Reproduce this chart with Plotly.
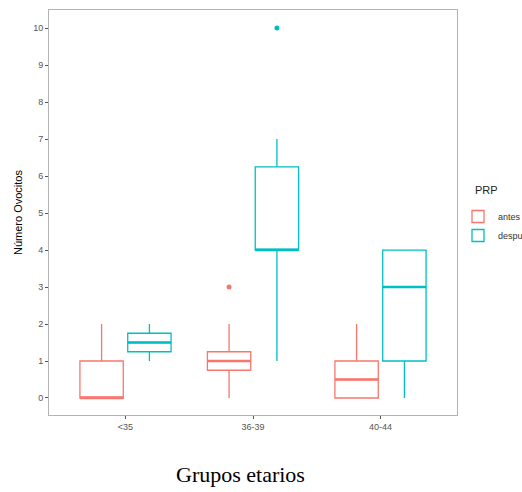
import plotly.graph_objects as go

groups = ["<35", "36-39", "40-44"]
conditions = ["antes", "después"]
colors = {"antes": "#F8766D", "después": "#00BFC4"}

# box statistics per condition, in group order
q1 = {"antes": [0, 0.75, 0], "después": [1.25, 4, 1]}
median = {"antes": [0, 1, 0.5], "después": [1.5, 4, 3]}
q3 = {"antes": [1, 1.25, 1], "después": [1.75, 6.25, 4]}
lower = {"antes": [0, 0, 0], "después": [1, 1, 0]}
upper = {"antes": [2, 2, 2], "después": [2, 7, 4]}
# outliers: (group index, value)
outliers = {"antes": [(1, 3)], "después": [(1, 10)]}

dodge = 0.1875
box_w = 0.34
pos = [1, 2, 3]
offsets = {"antes": -dodge, "después": dodge}

fig = go.Figure()
for c in conditions:
    xs = [p + offsets[c] for p in pos]
    fig.add_trace(go.Box(
        x=xs, q1=q1[c], median=median[c], q3=q3[c],
        lowerfence=lower[c], upperfence=upper[c],
        width=box_w, boxpoints=False, name=c,
        line=dict(color=colors[c], width=1.3),
        fillcolor="rgba(0,0,0,0)", whiskerwidth=0,
        legendgroup=c, showlegend=True, hoverinfo="skip",
    ))
    # thicker median segments (ggplot style)
    mx, my = [], []
    for x, m in zip(xs, median[c]):
        mx += [x - box_w / 2, x + box_w / 2, None]
        my += [m, m, None]
    fig.add_trace(go.Scatter(x=mx, y=my, mode="lines",
                             line=dict(color=colors[c], width=2.6),
                             showlegend=False, hoverinfo="skip"))
    fig.add_trace(go.Scatter(
        x=[pos[g] + offsets[c] for g, v in outliers[c]],
        y=[v for g, v in outliers[c]], mode="markers",
        marker=dict(color=colors[c], size=5), showlegend=False,
        hoverinfo="skip"))

axis_common = dict(showgrid=False, zeroline=False, showline=True, mirror=True,
                   linecolor="#b3b3b3", linewidth=1, ticks="outside",
                   ticklen=3, tickcolor="#555555",
                   tickfont=dict(family="Liberation Sans, Arial", size=9, color="#555555"))

fig.update_layout(
    width=522, height=492,
    margin=dict(l=49, r=65, t=10, b=77, autoexpand=False),
    paper_bgcolor="white", plot_bgcolor="white",
    xaxis=dict(range=[0.4, 3.6], tickvals=pos, ticktext=groups, **axis_common),
    yaxis=dict(range=[-0.46, 10.49], tickvals=list(range(0, 11)),
               title=dict(text="Número Ovocitos", standoff=8,
                          font=dict(family="Liberation Sans, Arial", size=11, color="black")),
               **axis_common),
    legend=dict(x=(458 - 49) / 408, xanchor="left", y=(415 - 202) / 405, yanchor="top",
                font=dict(family="Liberation Sans, Arial", size=9, color="#333"),
                bgcolor="rgba(0,0,0,0)", tracegroupgap=0),
    annotations=[
        dict(text="Grupos etarios", xref="paper", yref="paper",
             x=0.47, y=-0.111, xanchor="center", yanchor="top", showarrow=False,
             font=dict(family="Liberation Serif, Times New Roman", size=22, color="black")),
        dict(text="PRP", xref="paper", yref="paper",
             x=(473 - 49) / 408, y=(415 - 190) / 405, xanchor="left", yanchor="middle",
             showarrow=False,
             font=dict(family="Liberation Sans, Arial", size=11, color="#222")),
    ],
)

fig.write_html("out.html", config={"displayModeBar": False},
               post_script="document.body.style.margin='0';")
